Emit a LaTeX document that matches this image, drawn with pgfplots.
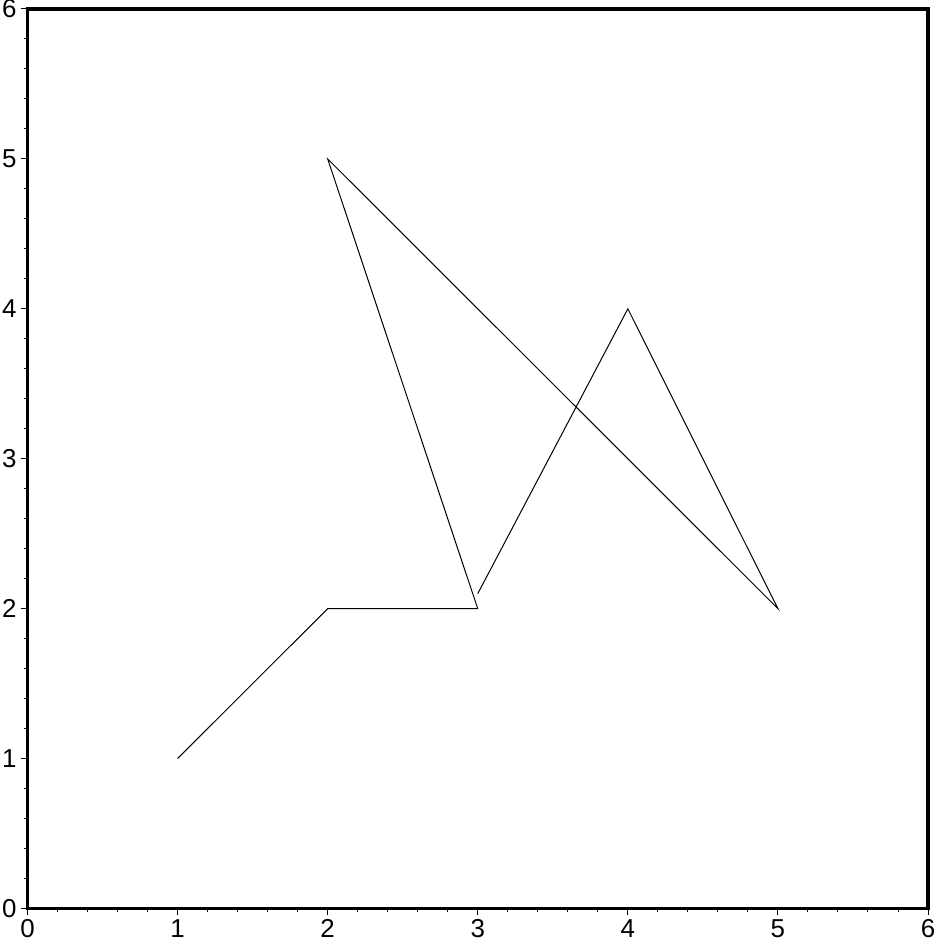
\documentclass[border=0pt]{standalone}
\usepackage{fontspec}
\setmainfont{Liberation Sans}
\usepackage{pgfplots}
\pgfplotsset{compat=1.18}
\begin{document}
\begin{tikzpicture}
\begin{axis}[
 name=ax,
 scale only axis, width=450.25bp, height=449.75bp,
 xmin=0,xmax=6,ymin=0,ymax=6,
 xtick={0,...,6}, ytick={0,...,6},
 minor tick num=4,
 tick pos=left, tick align=outside,
 major tick length=3.5bp, minor tick length=2bp,
 axis line style={line width=1.6bp},
 every tick/.style={black, line width=0.5bp},
 tick label style={font=\fontsize{13}{15}\selectfont, inner sep=1.8bp},
 /pgf/number format/assume math mode=true,
]
\addplot[black, line width=0.5bp, mark=none] coordinates {(1,1)(2,2)(3,2)(2,5)(5,2)(4,4)(3,2.1)};
\end{axis}
\pgfresetboundingbox
\useasboundingbox ([xshift=-13.75bp,yshift=-16.75bp]ax.south west) rectangle ([xshift=3bp,yshift=4.5bp]ax.north east);
\end{tikzpicture}
\end{document}
